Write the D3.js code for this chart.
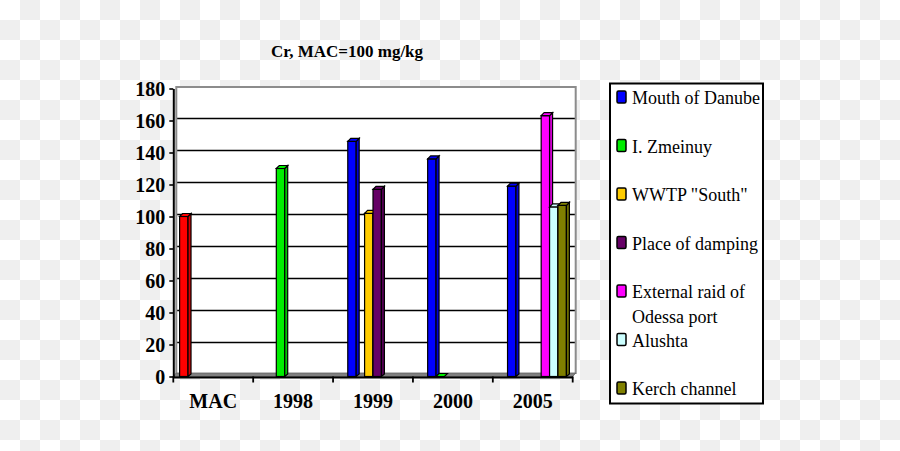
<!DOCTYPE html>
<html>
<head>
<meta charset="utf-8">
<script src="https://cdn.jsdelivr.net/npm/d3@7"></script>
<style>
	html, body { margin: 0; padding: 0; }
	svg { display: block; }
	text { font-family: "Liberation Serif", "Times New Roman", serif; fill: #000; }
</style>
</head>
<body>
<div id="chart"></div>
<script>
// DATA
const categories = ['MAC', '1998', '1999', '2000', '2005'];
const seriesNames = ['MAC', 'Mouth of Danube', 'I. Zmeinuy', 'WWTP "South"', 'Place of damping',
	'External raid of Odessa port', 'Alushta', 'Kerch channel'];
const colours = ['#ff0000', '#0000ff', '#00ee00', '#ffcc00', '#660066', '#ff00ff', '#ccffff', '#808000'];
// one array per series, one value per category (null = no bar)
const macValues      = [100, null, null, null, null];
const danubeValues   = [null, null, 147, 136, 119];
const zmeinuyValues  = [null, 130, null, 0, null];
const wwtpValues     = [null, null, 102, null, null];
const dampingValues  = [null, null, 117, null, null];
const odessaValues   = [null, null, null, null, 163];
const alushtaValues  = [null, null, null, null, 106];
const kerchValues    = [null, null, null, null, 107];
const yTickValues = [0, 20, 40, 60, 80, 100, 120, 140, 160, 180];
const legendSeries = seriesNames.slice(1); // MAC is not in the legend
const title = 'Cr, MAC=100 mg/kg';

const allValues = [macValues, danubeValues, zmeinuyValues, wwtpValues, dampingValues, odessaValues, alushtaValues, kerchValues];

// LAYOUT
const width = 900, height = 451;
const margin = { top: 88.5, left: 173.3, right: 327.3, bottom: 74 };
const depth = { dx: 3, dy: -2.5 };

const svg = d3.select('#chart')
	.append('svg')
	.attr('width', width)
	.attr('height', height);

// transparent-looking checker background
const defs = svg.append('defs');
const pat = defs.append('pattern')
	.attr('id', 'checker')
	.attr('width', 40).attr('height', 40)
	.attr('patternUnits', 'userSpaceOnUse');
pat.append('rect').attr('width', 40).attr('height', 40).attr('fill', '#ffffff');
pat.append('rect').attr('x', 20).attr('width', 20).attr('height', 20).attr('fill', '#efefef');
pat.append('rect').attr('y', 20).attr('width', 20).attr('height', 20).attr('fill', '#efefef');
svg.append('rect').attr('width', width).attr('height', height).attr('fill', 'url(#checker)');

// scales
const xScale = d3.scaleBand()
	.domain(categories)
	.range([margin.left, width - margin.right])
	.padding(0);
const xInner = d3.scaleBand()
	.domain(seriesNames)
	.range([0, xScale.bandwidth()])
	.paddingInner(0)
	.paddingOuter(0.75);
const yScale = d3.scaleLinear()
	.domain([0, 180])
	.range([height - margin.bottom - 0.5, margin.top]);

const x0 = xScale.range()[0], x1 = xScale.range()[1];
const yBase = yScale(0);

// back wall
svg.append('rect')
	.attr('x', x0 + depth.dx)
	.attr('y', yScale(180) + depth.dy + 1)
	.attr('width', x1 - x0)
	.attr('height', yBase - yScale(180) - 1)
	.attr('fill', '#ffffff');

// gridlines on the back wall
svg.append('g')
	.attr('class', 'gridline')
	.attr('transform', `translate(${x0 + depth.dx},${depth.dy})`)
	.call(d3.axisLeft(yScale)
		.tickValues(yTickValues.filter(d => d > 0 && d < 180))
		.tickSize(-(x1 - x0))
		.tickFormat(''))
	.call(g => g.select('.domain').remove())
	.call(g => g.selectAll('line').attr('stroke', '#000').attr('stroke-width', 1.7));

// wall frame (grey)
svg.append('path')
	.attr('d', `M${x0 + depth.dx},${yBase + depth.dy} V${yScale(180) + depth.dy + 1} H${x1 + depth.dx} V${yBase + depth.dy}`)
	.attr('fill', 'none')
	.attr('stroke', '#8c8c8c')
	.attr('stroke-width', 2);

// floor
svg.append('path')
	.attr('d', `M${x0},${yBase} L${x1},${yBase} L${x1 + depth.dx},${yBase + depth.dy - 1} L${x0 + depth.dx},${yBase + depth.dy - 1} Z`)
	.attr('fill', '#808080')
	.attr('stroke', '#606060')
	.attr('stroke-width', 0.8);

// bars
const bars = [];
allValues.forEach((vals, si) => {
	vals.forEach((v, ci) => {
		if (v !== null) bars.push({ series: seriesNames[si], cat: categories[ci], value: v, colour: colours[si] });
	});
});

const barG = svg.append('g').attr('class', 'bars');
const bw = xInner.bandwidth();
bars.forEach(d => {
	const bx = xScale(d.cat) + xInner(d.series);
	const top = yScale(d.value);
	const g = barG.append('g');
	if (d.value > 0) {
		g.append('rect')
			.attr('x', bx).attr('y', top)
			.attr('width', bw).attr('height', yBase - top)
			.attr('fill', d.colour)
			.attr('stroke', '#000').attr('stroke-width', 1.2);
		g.append('path')
			.attr('d', `M${bx + bw},${top} L${bx + bw + depth.dx},${top + depth.dy - 0.5} L${bx + bw + depth.dx},${yBase + depth.dy} L${bx + bw},${yBase} Z`)
			.attr('fill', d3.color(d.colour).darker(0.5))
			.attr('stroke', '#000').attr('stroke-width', 1.2);
	}
	g.append('path')
		.attr('d', `M${bx},${top} L${bx + depth.dx},${top + depth.dy - 0.5} L${bx + bw + depth.dx},${top + depth.dy - 0.5} L${bx + bw},${top} Z`)
		.attr('fill', d.colour)
		.attr('stroke', '#000').attr('stroke-width', 1.2);
});

// y axis
svg.append('g')
	.attr('class', 'y-axis')
	.attr('transform', `translate(${x0},0)`)
	.call(d3.axisLeft(yScale)
		.tickValues(yTickValues)
		.tickSize(4)
		.tickPadding(4)
		.tickSizeOuter(0))
	.call(g => g.select('.domain').attr('stroke', '#000').attr('stroke-width', 2))
	.call(g => g.selectAll('line').attr('stroke', '#000').attr('stroke-width', 1.6))
	.call(g => g.selectAll('text')
		.attr('font-size', 20)
		.attr('font-weight', 'bold')
		.attr('font-family', '"Liberation Serif", serif')
		.attr('dy', '0.36em'));

// x axis
svg.append('g')
	.attr('class', 'x-axis')
	.attr('transform', `translate(0,${yBase + 0.5})`)
	.call(d3.axisBottom(xScale)
		.tickSize(0)
		.tickPadding(17))
	.call(g => g.select('.domain').attr('stroke', '#000').attr('stroke-width', 2))
	.call(g => g.selectAll('text')
		.attr('font-size', 20)
		.attr('font-weight', 'bold')
		.attr('font-family', '"Liberation Serif", serif'));

// boundary ticks between categories
svg.append('g')
	.selectAll('line')
	.data(categories.concat(['end']))
	.join('line')
	.attr('x1', (d, i) => i < categories.length ? xScale(d) : x1)
	.attr('x2', (d, i) => i < categories.length ? xScale(d) : x1)
	.attr('y1', yBase)
	.attr('y2', yBase + 6)
	.attr('stroke', '#000')
	.attr('stroke-width', 1.8);

// title
svg.append('text')
	.attr('x', 347)
	.attr('y', 57)
	.attr('text-anchor', 'middle')
	.attr('font-size', 17)
	.attr('font-weight', 'bold')
	.text(title);

// legend
const legend = svg.append('g').attr('class', 'legend');
legend.append('rect')
	.attr('x', 610).attr('y', 83.5)
	.attr('width', 153).attr('height', 320)
	.attr('fill', '#ffffff')
	.attr('stroke', '#000')
	.attr('stroke-width', 2);

const legendY = d3.scaleLinear().domain([0, legendSeries.length - 1]).range([104, 395]);
legendSeries.forEach((name, i) => {
	const base = legendY(i);
	legend.append('rect')
		.attr('x', 617).attr('y', base - 13)
		.attr('width', 9).attr('height', 12)
		.attr('rx', 1.5)
		.attr('fill', colours[i + 1])
		.attr('stroke', '#000')
		.attr('stroke-width', 1.5);
	const t = legend.append('text')
		.attr('x', 632).attr('y', base)
		.attr('font-size', 18);
	// wrap long labels
	const words = name.split(' ');
	let line = [];
	let tspan = t.append('tspan').attr('x', 632).attr('dy', 0);
	words.forEach(w => {
		line.push(w);
		tspan.text(line.join(' '));
		if (tspan.node().getComputedTextLength() > 136 && line.length > 1) {
			line.pop();
			tspan.text(line.join(' '));
			line = [w];
			tspan = t.append('tspan').attr('x', 632).attr('dy', 24.5).text(w);
		}
	});
});
</script>
</body>
</html>
